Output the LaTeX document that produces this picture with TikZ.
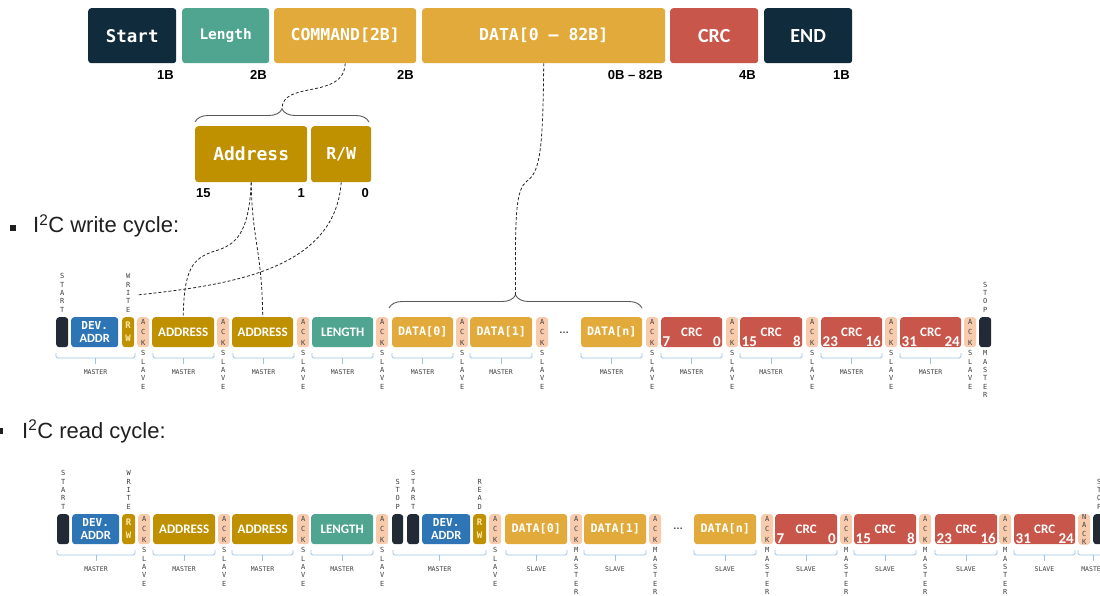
\documentclass[tikz,border=0pt]{standalone}
\usepackage{fontspec}
\setmainfont{Liberation Sans}
\newfontfamily\monof{DejaVu Sans Mono}
\newfontfamily\carl{Carlito}
\usetikzlibrary{decorations.pathreplacing,calc}
\definecolor{navy}{HTML}{0F2B3C}
\definecolor{tealc}{HTML}{4FA58F}
\definecolor{goldc}{HTML}{E2AA3B}
\definecolor{dgold}{HTML}{BF9000}
\definecolor{redc}{HTML}{C9564A}
\definecolor{bluec}{HTML}{2E75B6}
\definecolor{peach}{HTML}{F8CBAD}
\definecolor{blkd}{HTML}{222A35}
\definecolor{brblue}{HTML}{9DC3E6}
\definecolor{bgray}{HTML}{595959}
\definecolor{dtext}{HTML}{404040}
\definecolor{rwtext}{HTML}{FFE9A8}
\newcommand\fsz[1]{\fontsize{#1pt}{#1pt}\selectfont}
\newcommand\fszb[2]{\fontsize{#1pt}{#2pt}\selectfont}
\tikzset{
 tb/.style={rounded corners=3pt, inner sep=0pt, minimum height=55pt, anchor=north west, text=white},
 rb/.style={rounded corners=3pt, inner sep=0pt, minimum height=30pt, anchor=north west, text=white},
 ackb/.style={rb, fill=peach, minimum width=12pt, text=dtext, align=center, font=\monof\fszb{7}{10.7}},
 nackb/.style={rb, fill=peach, minimum width=12pt, text=dtext, align=center, font=\monof\fszb{7}{8.5}},
 vlab/.style={inner sep=0pt, align=center, text=dtext, font=\monof\fszb{7}{8.4}},
 mlab/.style={inner sep=0pt, text=dtext, font=\monof\fsz{6.5}},
 sz/.style={inner sep=0pt, text=black, font=\bfseries\fsz{13}},
 hd/.style={inner sep=0pt, text=black!88, font=\fsz{22}},
 num/.style={inner sep=0pt, text=white, font=\carl\bfseries\fsz{15}},
 brkl/.style={draw=brblue, line width=0.9pt, rounded corners=1.5pt},
 brc/.style={draw=bgray, line width=0.9pt, decorate, decoration={brace, amplitude=13pt}},
 dsh/.style={draw=black!85, line width=0.8pt, dash pattern=on 3pt off 2pt},
 sansb/.style={font=\carl\bfseries\fsz{13}},
 monob/.style={font=\monof\bfseries\fsz{11.7}},
 devb/.style={rb, fill=bluec, align=center, font=\fszb{11}{13}},
 rwb/.style={rb, fill=dgold, minimum width=12pt, align=center, text=rwtext, font=\monof\bfseries\fszb{9}{13}},
 dotsn/.style={inner sep=0pt, text=dtext, font=\bfseries\fsz{10}},
}
\newcommand\mkack[2]{\node[ackb] (#1) at (#2,\ry) {A\\C\\K};}
\newcommand\botlab[2]{\node[vlab,anchor=north] (#1v) at ([yshift=-3pt]#1.south) {#2};}
\newcommand\toplab[2]{\node[vlab,anchor=south] (#1t) at ([yshift=4.6pt]#1.north) {#2};}
\newcommand\mkbrk[4]{%
 \draw[brkl] (#2,\ry+36) -- (#2,\ry+41) -- (#3,\ry+41) -- (#3,\ry+36);
 \draw[brkl] ({(#2+#3)/2},\ry+41) -- ({(#2+#3)/2},\ry+47);
 \node[mlab] (#1) at ({(#2+#3)/2},\ry+55.5) {#4};}
\newcommand\mkcrc[5]{%
 \node[rb,fill=redc,minimum width=#3pt,sansb] (#1) at (#2,\ry) {CRC};
 \node[num,anchor=base west] (#1a) at ([xshift=1.5pt,yshift=1pt]#1.south west) {#4};
 \node[num,anchor=base east] (#1b) at ([xshift=-1.5pt,yshift=1pt]#1.south east) {#5};}
\newcommand\devtext{{\monof\bfseries DEV.}\\{\carl\bfseries\fsz{12.5}ADDR}}
\begin{document}
\begin{tikzpicture}[x=1pt,y=-1pt]
\useasboundingbox (0,0) rectangle (1100,596);
\clip (0,0) rectangle (1100,596);
% ---------- frame ----------
\node[tb,fill=navy,minimum width=88pt,font=\monof\bfseries\fsz{17.5}] (start) at (88,8) {Start};
\node[tb,fill=tealc,minimum width=87pt,font=\monof\bfseries\fsz{14.5}] (len) at (182,8) {Length};
\node[tb,fill=goldc,minimum width=142pt,font=\monof\bfseries\fsz{16.5}] (cmd) at (274,8) {COMMAND[2B]};
\node[tb,fill=goldc,minimum width=243pt,font=\monof\bfseries\fsz{16.5}] (data) at (422,8) {DATA[0 – 82B]};
\node[tb,fill=redc,minimum width=88pt,font=\carl\bfseries\fsz{20}] (crc) at (670,8) {CRC};
\node[tb,fill=navy,minimum width=88pt,font=\carl\bfseries\fsz{20}] (end) at (764,8) {END};
\node[sz,anchor=base east] (s1) at (174,80) {1B};
\node[sz,anchor=base east] (s2) at (267,80) {2B};
\node[sz,anchor=base east] (s3) at (414,80) {2B};
\node[sz,anchor=base east] (s4) at (663,80) {0B – 82B};
\node[sz,anchor=base east] (s5) at (756,80) {4B};
\node[sz,anchor=base east] (s6) at (850,80) {1B};
% ---------- command ----------
\node[tb,fill=dgold,minimum width=112pt,minimum height=56pt,font=\monof\bfseries\fsz{18}] (addr) at (195,126) {Address};
\node[tb,fill=dgold,minimum width=60pt,minimum height=56pt,font=\monof\bfseries\fsz{16.5}] (rw) at (311,126) {R/W};
\node[sz,anchor=base west] (b15) at (196,198) {15};
\node[sz,anchor=base east] (b1) at (305,198) {1};
\node[sz,anchor=base east] (b0) at (369,198) {0};
\draw[brc] (195,122) -- (369,122);
\coordinate (brA) at (282,109);
\draw[brc] (389,308) -- (642,308);
\coordinate (brD) at (515.5,295);
\draw[dsh] (cmd.south) .. controls (344,100) and (282,80) .. (brA);
\draw[dsh] (data.south) .. controls (543,150) and (540,172) .. (527,181) .. controls (516,190) and (515,210) .. (brD);
% ---------- headings ----------
\fill[black!88] (10,225) rectangle (15.5,230.5);
\node[hd,anchor=base west] (hw) at (33,233) {I\textsuperscript{2}C write cycle:};
\fill[black!88] (-3,428) rectangle (2.5,433.5);
\node[hd,anchor=base west] (hr) at (22,438) {I\textsuperscript{2}C read cycle:};
% ---------- write cycle ----------
\def\ry{317}
\node[rb,fill=blkd,minimum width=12pt] (wstart) at (56,\ry) {};
\toplab{wstart}{S\\T\\A\\R\\T}
\node[devb,minimum width=47pt] (wdev) at (71,\ry) {\devtext};
\node[rwb] (wrw) at (122,\ry) {R\\W};
\toplab{wrw}{W\\R\\I\\T\\E}
\mkack{wa1}{137}\botlab{wa1}{S\\L\\A\\V\\E}
\node[rb,fill=dgold,minimum width=62pt,sansb] (wad1) at (152,\ry) {ADDRESS};
\mkack{wa2}{217}\botlab{wa2}{S\\L\\A\\V\\E}
\node[rb,fill=dgold,minimum width=61pt,sansb] (wad2) at (232,\ry) {ADDRESS};
\mkack{wa3}{297}\botlab{wa3}{S\\L\\A\\V\\E}
\node[rb,fill=tealc,minimum width=61pt,sansb] (wlen) at (312,\ry) {LENGTH};
\mkack{wa4}{376}\botlab{wa4}{S\\L\\A\\V\\E}
\node[rb,fill=goldc,minimum width=61pt,monob] (wd0) at (392,\ry) {DATA[0]};
\mkack{wa5}{456}\botlab{wa5}{S\\L\\A\\V\\E}
\node[rb,fill=goldc,minimum width=62pt,monob] (wd1) at (470,\ry) {DATA[1]};
\mkack{wa6}{536}\botlab{wa6}{S\\L\\A\\V\\E}
\node[dotsn] (wdots) at (564,333) {…};
\node[rb,fill=goldc,minimum width=61pt,monob] (wdn) at (581,\ry) {DATA[n]};
\mkack{wa7}{646}\botlab{wa7}{S\\L\\A\\V\\E}
\mkcrc{wc1}{661}{61}{7}{0}
\mkack{wa8}{726}\botlab{wa8}{S\\L\\A\\V\\E}
\mkcrc{wc2}{740}{62}{15}{8}
\mkack{wa9}{806}\botlab{wa9}{S\\L\\A\\V\\E}
\mkcrc{wc3}{821}{61}{23}{16}
\mkack{wa10}{885}\botlab{wa10}{S\\L\\A\\V\\E}
\mkcrc{wc4}{900}{61}{31}{24}
\mkack{wa11}{964}\botlab{wa11}{S\\L\\A\\V\\E}
\node[rb,fill=blkd,minimum width=12pt] (wstop) at (979,\ry) {};
\toplab{wstop}{S\\T\\O\\P}
\botlab{wstop}{M\\A\\S\\T\\E\\R}
\mkbrk{wm1}{56}{135}{MASTER}
\mkbrk{wm2}{153}{214}{MASTER}
\mkbrk{wm3}{233}{294}{MASTER}
\mkbrk{wm4}{312}{373}{MASTER}
\mkbrk{wm5}{392}{453}{MASTER}
\mkbrk{wm6}{470}{532}{MASTER}
\mkbrk{wm7}{581}{642}{MASTER}
\mkbrk{wm8}{661}{722}{MASTER}
\mkbrk{wm9}{740}{802}{MASTER}
\mkbrk{wm10}{821}{882}{MASTER}
\mkbrk{wm11}{900}{961}{MASTER}
\coordinate (wend) at (137,295);
\draw[dsh] (addr.south) .. controls (249,235) and (235,245) .. (215,251) .. controls (192,258) and (184,270) .. (wad1.north);
\draw[dsh] (addr.south) .. controls (252,240) and (262,250) .. (wad2.north);
\draw[dsh] (rw.south) .. controls (335,270) and (230,285) .. (wend);
% ---------- read cycle ----------
\def\ry{514}
\node[rb,fill=blkd,minimum width=12pt] (rstart) at (57,\ry) {};
\toplab{rstart}{S\\T\\A\\R\\T}
\node[devb,minimum width=47pt] (rdev) at (72,\ry) {\devtext};
\node[rwb,minimum width=13pt] (rrw) at (122,\ry) {R\\W};
\toplab{rrw}{W\\R\\I\\T\\E}
\mkack{ra1}{138}\botlab{ra1}{S\\L\\A\\V\\E}
\node[rb,fill=dgold,minimum width=62pt,sansb] (rad1) at (153,\ry) {ADDRESS};
\mkack{ra2}{218}\botlab{ra2}{S\\L\\A\\V\\E}
\node[rb,fill=dgold,minimum width=61pt,sansb] (rad2) at (232,\ry) {ADDRESS};
\mkack{ra3}{297}\botlab{ra3}{S\\L\\A\\V\\E}
\node[rb,fill=tealc,minimum width=62pt,sansb] (rlen) at (311,\ry) {LENGTH};
\mkack{ra4}{376}\botlab{ra4}{S\\L\\A\\V\\E}
\node[rb,fill=blkd,minimum width=11pt] (rstop1) at (392,\ry) {};
\toplab{rstop1}{S\\T\\O\\P}
\node[rb,fill=blkd,minimum width=12pt] (rstart2) at (407,\ry) {};
\toplab{rstart2}{S\\T\\A\\R\\T}
\node[devb,minimum width=48pt] (rdev2) at (422,\ry) {\devtext};
\node[rwb,minimum width=13pt] (rrw2) at (473,\ry) {R\\W};
\toplab{rrw2}{R\\E\\A\\D}
\mkack{ra5}{489}\botlab{ra5}{S\\L\\A\\V\\E}
\node[rb,fill=goldc,minimum width=62pt,monob] (rd0) at (505,\ry) {DATA[0]};
\mkack{ra6}{570}\botlab{ra6}{M\\A\\S\\T\\E\\R}
\node[rb,fill=goldc,minimum width=62pt,monob] (rd1) at (584,\ry) {DATA[1]};
\mkack{ra7}{649}\botlab{ra7}{M\\A\\S\\T\\E\\R}
\node[dotsn] (rdots) at (678,529) {…};
\node[rb,fill=goldc,minimum width=62pt,monob] (rdn) at (694,\ry) {DATA[n]};
\mkack{ra8}{761}\botlab{ra8}{M\\A\\S\\T\\E\\R}
\mkcrc{rc1}{775}{62}{7}{0}
\mkack{ra9}{840}\botlab{ra9}{M\\A\\S\\T\\E\\R}
\mkcrc{rc2}{854}{62}{15}{8}
\mkack{ra10}{919}\botlab{ra10}{M\\A\\S\\T\\E\\R}
\mkcrc{rc3}{935}{62}{23}{16}
\mkack{ra11}{999}\botlab{ra11}{M\\A\\S\\T\\E\\R}
\mkcrc{rc4}{1014}{61}{31}{24}
\node[nackb] (rnack) at (1078,\ry) {N\\A\\C\\K};
\node[rb,fill=blkd,minimum width=12pt] (rstop2) at (1093,\ry) {};
\toplab{rstop2}{S\\T\\O\\P}
\mkbrk{rm1}{57}{135}{MASTER}
\mkbrk{rm2}{153}{215}{MASTER}
\mkbrk{rm3}{232}{293}{MASTER}
\mkbrk{rm4}{311}{373}{MASTER}
\mkbrk{rm5}{393}{486}{MASTER}
\mkbrk{rs1}{506}{567}{SLAVE}
\mkbrk{rs2}{584}{646}{SLAVE}
\mkbrk{rs3}{694}{756}{SLAVE}
\mkbrk{rs4}{775}{837}{SLAVE}
\mkbrk{rs5}{854}{916}{SLAVE}
\mkbrk{rs6}{935}{997}{SLAVE}
\mkbrk{rs7}{1014}{1075}{SLAVE}
\mkbrk{rm6}{1078}{1108}{MASTER}
\end{tikzpicture}
\end{document}
